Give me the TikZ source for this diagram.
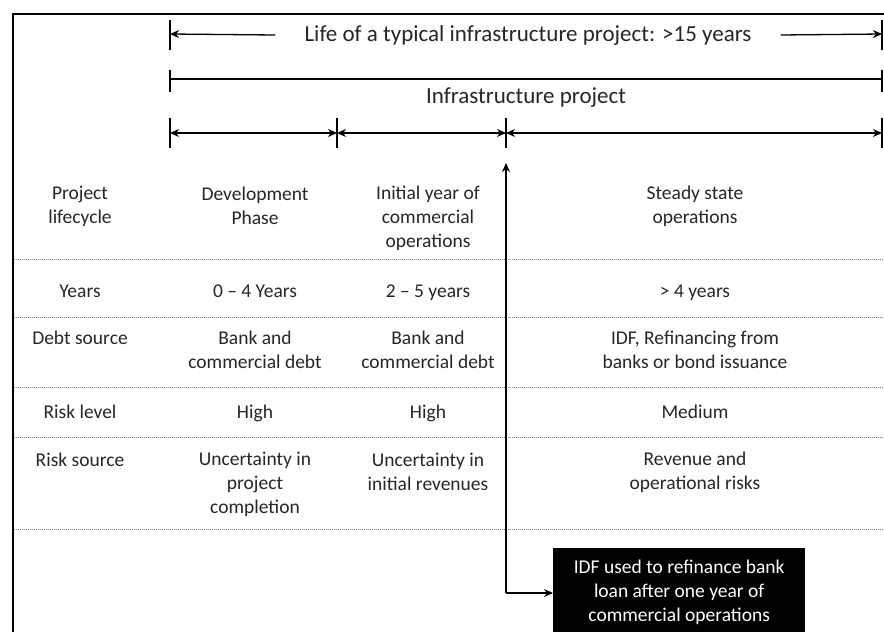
\documentclass[tikz,border=0pt]{standalone}
\usepackage{fontspec}
\setmainfont{Carlito}
\usetikzlibrary{arrows.meta}
\begin{document}
\begin{tikzpicture}[x=1pt,y=-1pt,
  txt/.style={font=\fontsize{19.5}{24}\selectfont, align=center, inner sep=0pt, text=black!85},
  one/.style={txt, text height=15pt, text depth=2pt},
  head/.style={txt, font=\fontsize{23}{27}\selectfont},
  tick/.style={line width=1.3pt},
  arr/.style={line width=1.3pt, -{Stealth[length=9pt,width=8pt]}},
  darr/.style={line width=1.3pt, {Stealth[length=9pt,width=8pt]}-{Stealth[length=9pt,width=8pt]}},
  sep/.style={gray, line width=0.8pt, dash pattern=on 1pt off 1pt},
  frame/.style={line width=1.6pt}]
\useasboundingbox (0,0) rectangle (884,632);
% frame
\draw[frame] (886,14) -- (13,14) -- (13,634);
% row 1
\node[head] (life) at (528,35) {Life of a typical infrastructure project: >15 years};
\coordinate (lifeL) at (170,34);
\coordinate (lifeR) at (882,34);
\draw[tick] (170,20) -- (170,50);
\draw[tick] (882,20) -- (882,50);
\draw[arr] ([xshift=-29pt]life.west) -- (lifeL);
\draw[arr] ([xshift=29pt]life.east) -- (lifeR);
% row 2
\coordinate (ipL) at (170,79);
\coordinate (ipR) at (882,79);
\draw[tick] (170,70) -- (170,92);
\draw[tick] (882,70) -- (882,92);
\draw[tick] (ipL) -- (ipR);
\node[head] (ip) at (526,98) {Infrastructure project};
% row 3
\coordinate (t1) at (170,133);
\coordinate (t2) at (337,133);
\coordinate (t3) at (506,133);
\coordinate (t4) at (882,133);
\foreach \x in {170,337,506,882} \draw[tick] (\x,118) -- (\x,148);
\draw[darr] (t1) -- (t2);
\draw[darr] (t2) -- (t3);
\draw[darr] (t3) -- (t4);
% separators
\foreach \y in {259,317,387,437,529} \draw[sep] (14,\y) -- (884,\y);
% table
\node[txt] (c11) at (80,206) {Project\\lifecycle};
\node[txt] (c12) at (255,206) {Development\\Phase};
\node[txt] (c13) at (428,218) {Initial year of\\commercial\\operations};
\node[txt] (c14) at (695,206) {Steady state\\operations};
\node[one] (c21) at (80,291) {Years};
\node[one] (c22) at (255,291) {0 – 4 Years};
\node[one] (c23) at (428,291) {2 – 5 years};
\node[one] (c24) at (695,291) {> 4 years};
\node[one] (c31) at (80,338) {Debt source};
\node[txt] (c32) at (255,350) {Bank and\\commercial debt};
\node[txt] (c33) at (428,350) {Bank and\\commercial debt};
\node[txt] (c34) at (695,350) {IDF, Refinancing from\\banks or bond issuance};
\node[one] (c41) at (80,412) {Risk level};
\node[one] (c42) at (255,412) {High};
\node[one] (c43) at (428,412) {High};
\node[one] (c44) at (695,412) {Medium};
\node[one] (c51) at (80,460) {Risk source};
\node[txt] (c52) at (255,484) {Uncertainty in\\project\\completion};
\node[txt] (c53) at (428,472) {Uncertainty in\\initial revenues};
\node[txt] (c54) at (695,472) {Revenue and\\operational risks};
% IDF box
\node[txt, fill=black, text=white, minimum width=252pt, minimum height=88pt, anchor=north west] (box) at (553,548)
  {IDF used to refinance bank\\loan after one year of\\commercial operations};
\coordinate (corner) at (506,593);
\coordinate (up) at (506,163);
\draw[arr] (corner) -- (up);
\draw[arr] (corner) -- (box.west |- corner);
\end{tikzpicture}
\end{document}
